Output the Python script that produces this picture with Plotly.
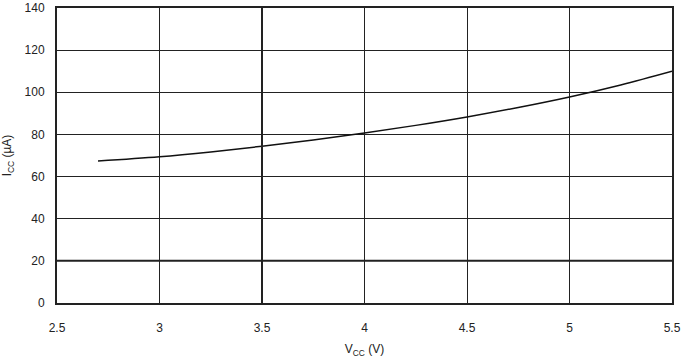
import plotly.graph_objects as go

vcc = [2.7, 3.0, 3.25, 3.5, 3.75, 4.0, 4.25, 4.5, 4.75, 5.0, 5.25, 5.5]
icc = [67.4, 69.4, 71.7, 74.4, 77.4, 80.7, 84.3, 88.3, 92.8, 97.8, 103.5, 110.0]
x_ticks = [2.5, 3, 3.5, 4, 4.5, 5, 5.5]
x_tick_labels = ["2.5", "3", "3.5", "4", "4.5", "5", "5.5"]
y_ticks = [0, 20, 40, 60, 80, 100, 120, 140]

fig = go.Figure()
fig.add_trace(go.Scatter(x=vcc, y=icc, mode="lines", line=dict(color="#111111", width=1.5, shape="spline"),
                         showlegend=False))

# emphasized grid lines
fig.add_vline(x=3.5, line=dict(color="#222222", width=2))
fig.add_hline(y=20, line=dict(color="#222222", width=2))

fig.update_layout(
    width=685, height=358,
    margin=dict(l=57, r=13, t=8, b=55),
    paper_bgcolor="white", plot_bgcolor="white",
    font=dict(family="Liberation Sans, Arial, sans-serif", size=12, color="#222222"),
)
fig.update_xaxes(range=[2.5, 5.5], tickvals=x_ticks, ticktext=x_tick_labels,
                 showgrid=True, gridcolor="#222222", gridwidth=1,
                 showline=True, linecolor="#222222", linewidth=2, mirror=True,
                 ticks="", ticklen=0, zeroline=False, automargin=False,
                 ticklabelstandoff=13,
                 title=dict(text="V<sub>CC</sub> (V)", font=dict(size=12), standoff=12))
fig.update_yaxes(range=[0, 140], tickvals=y_ticks,
                 showgrid=True, gridcolor="#222222", gridwidth=1,
                 showline=True, linecolor="#222222", linewidth=2, mirror=True,
                 ticks="", ticklen=0, zeroline=False, automargin=False,
                 ticklabelstandoff=8,
                 title=dict(text="I<sub>CC</sub> (µA)", font=dict(size=12), standoff=10))

fig.write_html("out.html", config={"displayModeBar": False},
               post_script="document.body.style.margin='0';")
